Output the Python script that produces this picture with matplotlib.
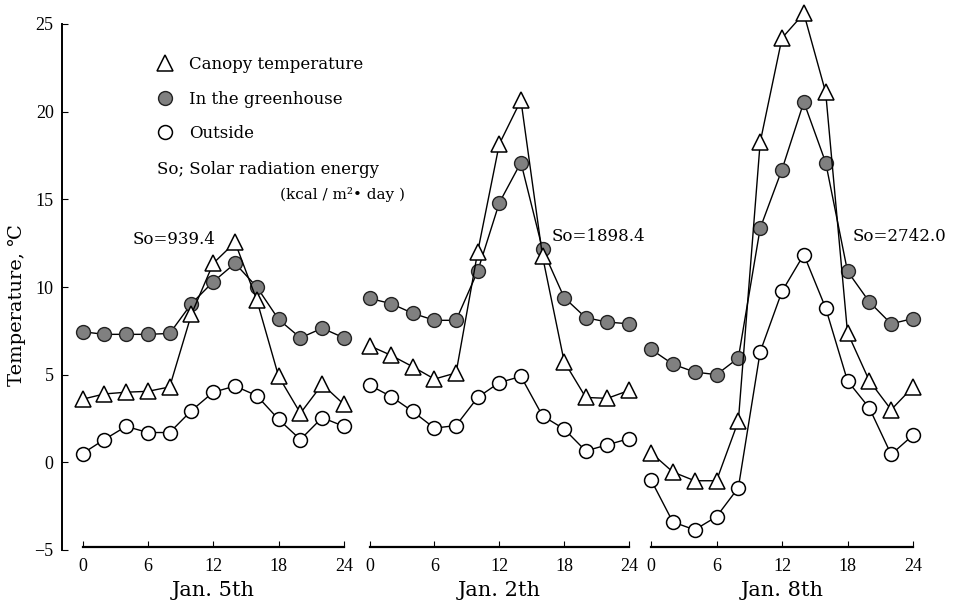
import matplotlib.pyplot as plt
from matplotlib.lines import Line2D

plt.rcParams['font.family'] = ['Liberation Serif', 'DejaVu Serif', 'Noto Sans CJK JP']
wide = ['DejaVu Serif', 'Noto Sans CJK JP']

hours = [0, 2, 4, 6, 8, 10, 12, 14, 16, 18, 20, 22, 24]
days = ['Jan. 5th', 'Jan. 2th', 'Jan. 8th']
solar = ['So=939.4', 'So=1898.4', 'So=2742.0']
yticks = [-5, 0, 5, 10, 15, 20, 25]
xticks = [0, 6, 12, 18, 24]

# one row per day (panel)
canopy = [
    [3.6, 3.9, 4.0, 4.05, 4.3, 8.45, 11.35, 12.55, 9.25, 4.9, 2.8, 4.45, 3.3],
    [6.65, 6.1, 5.45, 4.75, 5.1, 12.0, 18.15, 20.65, 11.75, 5.75, 3.7, 3.65, 4.1],
    [0.55, -0.55, -1.05, -1.05, 2.35, 18.25, 24.2, 25.6, 21.1, 7.4, 4.65, 3.0, 4.3],
]
greenhouse = [
    [7.45, 7.3, 7.3, 7.3, 7.35, 9.05, 10.3, 11.35, 10.0, 8.15, 7.1, 7.65, 7.1],
    [9.35, 9.05, 8.5, 8.1, 8.1, 10.9, 14.8, 17.1, 12.15, 9.4, 8.25, 8.0, 7.9],
    [6.45, 5.6, 5.15, 5.0, 5.95, 13.35, 16.7, 20.55, 17.1, 10.9, 9.15, 7.9, 8.2],
]
outside = [
    [0.5, 1.3, 2.05, 1.7, 1.7, 2.95, 4.0, 4.35, 3.8, 2.45, 1.3, 2.55, 2.05],
    [4.4, 3.75, 2.9, 1.95, 2.1, 3.7, 4.55, 4.9, 2.65, 1.9, 0.65, 1.0, 1.35],
    [-1.0, -3.4, -3.85, -3.1, -1.45, 6.3, 9.75, 11.85, 8.8, 4.65, 3.1, 0.45, 1.55],
]

W, H = 957, 605
fig = plt.figure(figsize=(W / 100, H / 100), dpi=100)


def box(x0, x1, y0=24, y1=550):
    # pixel box -> figure fraction
    return [x0 / W, 1 - y1 / H, (x1 - x0) / W, (y1 - y0) / H]


tri = dict(marker='^', ms=11, mfc='white', mec='k', mew=1.1)
dot = dict(marker='o', ms=10, mfc='#808080', mec='#222222', mew=1.0)
ring = dict(marker='o', ms=10, mfc='white', mec='k', mew=1.1)

# y axis only
yax = fig.add_axes(box(62, 82))
yax.set_ylim(-5, 25)
yax.patch.set_visible(False)
for s in ['top', 'right', 'bottom']:
    yax.spines[s].set_visible(False)
yax.spines['left'].set_linewidth(1.4)
yax.set_xticks([])
yax.set_yticks(yticks)
yax.tick_params(axis='y', direction='in', length=4, labelsize=13, pad=6)

lefts = [82.5, 369.6, 651]
rights = [344, 629, 913]
for i in range(3):
    ax = fig.add_axes(box(lefts[i], rights[i]))
    ax.set_xlim(0, 24)
    ax.set_ylim(-5, 25)
    ax.patch.set_visible(False)
    for s in ['top', 'right', 'left']:
        ax.spines[s].set_visible(False)
    ax.spines['bottom'].set_position(('data', -4.85))
    ax.spines['bottom'].set_linewidth(1.6)
    ax.set_yticks([])
    ax.set_xticks(xticks)
    ax.tick_params(axis='x', direction='in', length=4, labelsize=13, pad=8)
    ax.set_xlabel(days[i], fontsize=15, labelpad=4, family=wide)
    ax.plot(hours, outside[i], color='k', lw=1, clip_on=False, zorder=3, **ring)
    ax.plot(hours, greenhouse[i], color='k', lw=1, clip_on=False, zorder=4, **dot)
    ax.plot(hours, canopy[i], color='k', lw=1, clip_on=False, zorder=5, **tri)

fig.text(17 / W, 1 - 305 / H, 'Temperature, ℃', rotation=90, ha='center', va='center',
         fontsize=14, family=wide)

sol_x = [133, 552, 853]
sol_y = [240, 237, 237]
for i in range(3):
    fig.text(sol_x[i] / W, 1 - sol_y[i] / H, solar[i], ha='left', va='center',
             fontsize=12, family=wide)

handles = [Line2D([], [], ls='none', **tri),
           Line2D([], [], ls='none', **dot),
           Line2D([], [], ls='none', **ring)]
labels = ['Canopy temperature', 'In the greenhouse', 'Outside']
fig.legend(handles, labels, loc='upper left', bbox_to_anchor=(157 / W, 1 - 56 / H),
           frameon=False, prop={'family': wide, 'size': 12}, handlelength=1,
           handletextpad=0.9, labelspacing=1.05, borderpad=0, borderaxespad=0)
fig.text(157 / W, 1 - 169 / H, 'So; Solar radiation energy', ha='left', va='center',
         fontsize=12, family=wide)
fig.text(280 / W, 1 - 195 / H, '(kcal / m²• day )', ha='left', va='center',
         fontsize=11, family=wide)

fig.savefig('out.png', dpi=100, facecolor='white')
